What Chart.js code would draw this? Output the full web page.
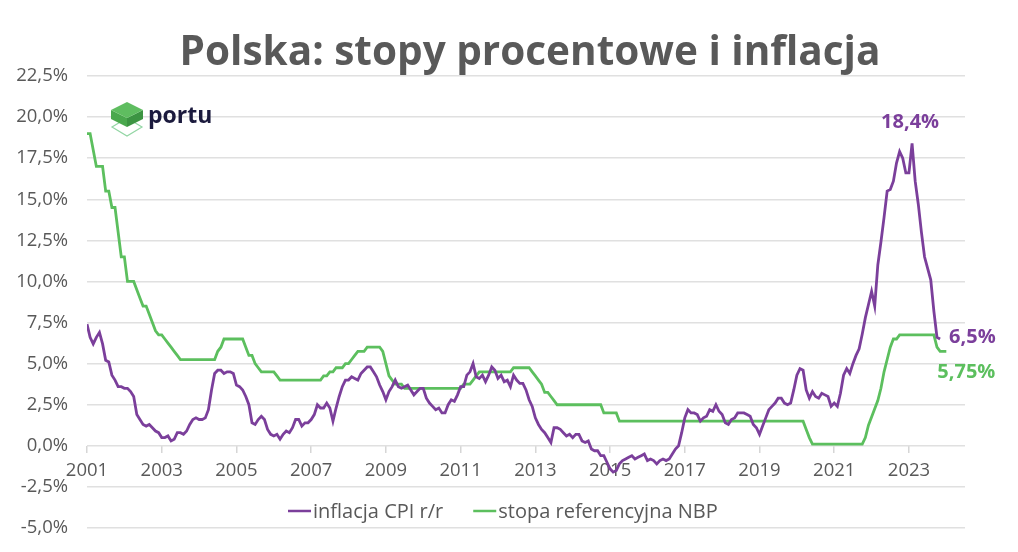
<!DOCTYPE html>
<html>
<head>
<meta charset="utf-8">
<script src="https://cdn.jsdelivr.net/npm/chart.js@4/dist/chart.umd.min.js"></script>
<style>
  body { margin: 0; background: #fff; }
  #wrap { width: 1018px; height: 552px; }
</style>
</head>
<body>
<div id="wrap"><canvas id="chart"></canvas></div>
<script>
// dane miesięczne od stycznia 2001
const startYear = 2001;

// inflacja CPI r/r (%), styczeń 2001 - listopad 2023
const cpi = [
  7.4, 6.6, 6.2, 6.6, 6.9, 6.2, 5.2, 5.1, 4.3, 4.0, 3.6, 3.6,
  3.5, 3.5, 3.3, 3.0, 1.9, 1.6, 1.3, 1.2, 1.3, 1.1, 0.9, 0.8,
  0.5, 0.5, 0.6, 0.3, 0.4, 0.8, 0.8, 0.7, 0.9, 1.3, 1.6, 1.7,
  1.6, 1.6, 1.7, 2.2, 3.4, 4.4, 4.6, 4.6, 4.4, 4.5, 4.5, 4.4,
  3.7, 3.6, 3.4, 3.0, 2.5, 1.4, 1.3, 1.6, 1.8, 1.6, 1.0, 0.7,
  0.6, 0.7, 0.4, 0.7, 0.9, 0.8, 1.1, 1.6, 1.6, 1.2, 1.4, 1.4,
  1.6, 1.9, 2.5, 2.3, 2.3, 2.6, 2.3, 1.5, 2.3, 3.0, 3.6, 4.0,
  4.0, 4.2, 4.1, 4.0, 4.4, 4.6, 4.8, 4.8, 4.5, 4.2, 3.7, 3.3,
  2.8, 3.3, 3.6, 4.0, 3.6, 3.5, 3.6, 3.7, 3.4, 3.1, 3.3, 3.5,
  3.5, 2.9, 2.6, 2.4, 2.2, 2.3, 2.0, 2.0, 2.5, 2.8, 2.7, 3.1,
  3.6, 3.6, 4.3, 4.5, 5.0, 4.2, 4.1, 4.3, 3.9, 4.3, 4.8, 4.6,
  4.1, 4.3, 3.9, 4.0, 3.6, 4.3, 4.0, 3.8, 3.8, 3.4, 2.8, 2.4,
  1.7, 1.3, 1.0, 0.8, 0.5, 0.2, 1.1, 1.1, 1.0, 0.8, 0.6, 0.7,
  0.5, 0.7, 0.7, 0.3, 0.2, 0.3, -0.2, -0.3, -0.3, -0.6, -0.6, -1.0,
  -1.4, -1.6, -1.5, -1.1, -0.9, -0.8, -0.7, -0.6, -0.8, -0.7, -0.6, -0.5,
  -0.9, -0.8, -0.9, -1.1, -0.9, -0.8, -0.9, -0.8, -0.5, -0.2, 0.0, 0.8,
  1.7, 2.2, 2.0, 2.0, 1.9, 1.5, 1.7, 1.8, 2.2, 2.1, 2.5, 2.1,
  1.9, 1.4, 1.3, 1.6, 1.7, 2.0, 2.0, 2.0, 1.9, 1.8, 1.3, 1.1,
  0.7, 1.2, 1.7, 2.2, 2.4, 2.6, 2.9, 2.9, 2.6, 2.5, 2.6, 3.4,
  4.3, 4.7, 4.6, 3.4, 2.9, 3.3, 3.0, 2.9, 3.2, 3.1, 3.0, 2.4,
  2.6, 2.4, 3.2, 4.3, 4.7, 4.4, 5.0, 5.5, 5.9, 6.8, 7.8, 8.6,
  9.4, 8.5, 11.0, 12.4, 13.9, 15.5, 15.6, 16.1, 17.2, 17.9, 17.5, 16.6,
  16.6, 18.4, 16.1, 14.7, 13.0, 11.5, 10.8, 10.1, 8.2, 6.6, 6.5
];

// stopa referencyjna NBP (%), styczeń 2001 - styczeń 2024
const rate = [
  19, 19, 18, 17, 17, 17, 15.5, 15.5, 14.5, 14.5, 13, 11.5,
  11.5, 10, 10, 10, 9.5, 9, 8.5, 8.5, 8, 7.5, 7, 6.75,
  6.75, 6.5, 6.25, 6, 5.75, 5.5, 5.25, 5.25, 5.25, 5.25, 5.25, 5.25,
  5.25, 5.25, 5.25, 5.25, 5.25, 5.25, 5.75, 6, 6.5, 6.5, 6.5, 6.5,
  6.5, 6.5, 6.5, 6, 5.5, 5.5, 5, 4.75, 4.5, 4.5, 4.5, 4.5,
  4.5, 4.25, 4, 4, 4, 4, 4, 4, 4, 4, 4, 4,
  4, 4, 4, 4, 4.25, 4.25, 4.5, 4.5, 4.75, 4.75, 4.75, 5,
  5, 5.25, 5.5, 5.75, 5.75, 5.75, 6, 6, 6, 6, 6, 5.75,
  5, 4.25, 4, 3.75, 3.75, 3.75, 3.5, 3.5, 3.5, 3.5, 3.5, 3.5,
  3.5, 3.5, 3.5, 3.5, 3.5, 3.5, 3.5, 3.5, 3.5, 3.5, 3.5, 3.5,
  3.5, 3.75, 3.75, 3.75, 4, 4.25, 4.5, 4.5, 4.5, 4.5, 4.5, 4.5,
  4.5, 4.5, 4.5, 4.5, 4.5, 4.75, 4.75, 4.75, 4.75, 4.75, 4.75, 4.5,
  4.25, 4, 3.75, 3.25, 3.25, 3, 2.75, 2.5, 2.5, 2.5, 2.5, 2.5,
  2.5, 2.5, 2.5, 2.5, 2.5, 2.5, 2.5, 2.5, 2.5, 2.5, 2, 2,
  2, 2, 2, 1.5, 1.5, 1.5, 1.5, 1.5, 1.5, 1.5, 1.5, 1.5,
  1.5, 1.5, 1.5, 1.5, 1.5, 1.5, 1.5, 1.5, 1.5, 1.5, 1.5, 1.5,
  1.5, 1.5, 1.5, 1.5, 1.5, 1.5, 1.5, 1.5, 1.5, 1.5, 1.5, 1.5,
  1.5, 1.5, 1.5, 1.5, 1.5, 1.5, 1.5, 1.5, 1.5, 1.5, 1.5, 1.5,
  1.5, 1.5, 1.5, 1.5, 1.5, 1.5, 1.5, 1.5, 1.5, 1.5, 1.5, 1.5,
  1.5, 1.5, 1.5, 1, 0.5, 0.1, 0.1, 0.1, 0.1, 0.1, 0.1, 0.1,
  0.1, 0.1, 0.1, 0.1, 0.1, 0.1, 0.1, 0.1, 0.1, 0.1, 0.5, 1.25,
  1.75, 2.25, 2.75, 3.5, 4.5, 5.25, 6, 6.5, 6.5, 6.75, 6.75, 6.75,
  6.75, 6.75, 6.75, 6.75, 6.75, 6.75, 6.75, 6.75, 6.75, 6, 5.75, 5.75,
  5.75
];

const seriesNames = ["inflacja CPI r/r", "stopa referencyjna NBP"];
const yearTicks = [2001, 2003, 2005, 2007, 2009, 2011, 2013, 2015, 2017, 2019, 2021, 2023];

const PURPLE = "#7b3f9b";
const GREEN = "#5cbf5e";
const GREY = "#595959";
const FONT = '"Open Sans", "DejaVu Sans", sans-serif';

function toPoints(arr) {
  return arr.map((v, i) => ({ x: startYear + i / 12, y: v }));
}

function pl(v) {
  return String(v).replace(".", ",") + "%";
}

// tytuł, logo, legenda i podpisy wartości
const extras = {
  id: "extras",
  afterDraw(chart) {
    const ctx = chart.ctx;
    const xs = chart.scales.x;
    const ys = chart.scales.y;
    ctx.save();

    // tytuł
    ctx.fillStyle = GREY;
    ctx.font = "bold 40.5px " + FONT;
    ctx.textAlign = "center";
    ctx.textBaseline = "alphabetic";
    ctx.fillText("Polska: stopy procentowe i inflacja", 530, 65);

    // logo portu
    ctx.strokeStyle = "#93d6a4";
    ctx.lineWidth = 1.2;
    ctx.beginPath();
    ctx.moveTo(127, 118); ctx.lineTo(142, 127); ctx.lineTo(127, 136); ctx.lineTo(112, 127); ctx.closePath();
    ctx.stroke();
    ctx.fillStyle = "#4aa84d";
    ctx.beginPath();
    ctx.moveTo(111, 110); ctx.lineTo(127, 118); ctx.lineTo(127, 127); ctx.lineTo(111, 119); ctx.closePath();
    ctx.fill();
    ctx.fillStyle = "#3c9442";
    ctx.beginPath();
    ctx.moveTo(127, 118); ctx.lineTo(143, 110); ctx.lineTo(143, 119); ctx.lineTo(127, 127); ctx.closePath();
    ctx.fill();
    ctx.fillStyle = "#5fbd60";
    ctx.beginPath();
    ctx.moveTo(127, 102); ctx.lineTo(143, 110); ctx.lineTo(127, 118); ctx.lineTo(111, 110); ctx.closePath();
    ctx.fill();
    ctx.fillStyle = "#1b1a3d";
    ctx.font = "bold 23px " + FONT;
    ctx.textAlign = "left";
    ctx.fillText("portu", 148, 123);

    // legenda
    ctx.font = "20px " + FONT;
    ctx.textBaseline = "middle";
    const colors = [PURPLE, GREEN];
    let lx = 288;
    seriesNames.forEach((name, i) => {
      ctx.strokeStyle = colors[i];
      ctx.lineWidth = 2.5;
      ctx.beginPath();
      ctx.moveTo(lx, 511);
      ctx.lineTo(lx + 23, 511);
      ctx.stroke();
      ctx.fillStyle = GREY;
      ctx.fillText(name, lx + 25, 512);
      lx += 25 + ctx.measureText(name).width + 30;
    });

    // podpisy: szczyt inflacji i ostatnie wartości
    ctx.font = "bold 20px " + FONT;
    let iMax = 0;
    cpi.forEach((v, i) => { if (v > cpi[iMax]) iMax = i; });
    ctx.fillStyle = PURPLE;
    ctx.textAlign = "center";
    ctx.textBaseline = "alphabetic";
    ctx.fillText(pl(cpi[iMax]), xs.getPixelForValue(startYear + iMax / 12) - 2, ys.getPixelForValue(cpi[iMax]) - 15);

    ctx.textAlign = "left";
    ctx.textBaseline = "middle";
    const iC = cpi.length - 1;
    ctx.fillText(pl(cpi[iC]), xs.getPixelForValue(startYear + iC / 12) + 9, ys.getPixelForValue(cpi[iC]) - 2);

    const iR = rate.length - 1;
    ctx.fillStyle = GREEN;
    ctx.fillText(pl(rate[iR]), xs.getPixelForValue(startYear + iR / 12) - 9, ys.getPixelForValue(rate[iR]) + 21);

    ctx.restore();
  }
};

new Chart(document.getElementById("chart"), {
  type: "line",
  data: {
    datasets: [
      {
        label: seriesNames[0],
        data: toPoints(cpi),
        borderColor: PURPLE,
        borderWidth: 2.8,
        pointRadius: 0,
        tension: 0
      },
      {
        label: seriesNames[1],
        data: toPoints(rate),
        borderColor: GREEN,
        borderWidth: 2.8,
        pointRadius: 0,
        tension: 0
      }
    ]
  },
  options: {
    responsive: true,
    maintainAspectRatio: false,
    animation: false,
    layout: { padding: { left: 0, right: 53, top: 76, bottom: 24 } },
    plugins: {
      legend: { display: false },
      title: { display: false },
      tooltip: { enabled: false }
    },
    scales: {
      x: {
        type: "linear",
        position: { y: 0 },
        min: 2001,
        max: 2024.5,
        afterBuildTicks: s => { s.ticks = yearTicks.map(v => ({ value: v })); },
        grid: { drawOnChartArea: false, drawTicks: true, tickLength: 7, color: "#d6d6d6", lineWidth: 1.5 },
        border: { display: false },
        ticks: {
          autoSkip: false,
          maxRotation: 0,
          padding: 7,
          color: GREY,
          font: { family: FONT, size: 18.5 },
          callback: v => String(v)
        }
      },
      y: {
        min: -5,
        max: 22.5,
        afterFit: s => { s.width = 87; },
        // niewidoczne kreski zamiast dużego paddingu, żeby nie zjadać miejsca na dole
        grid: { color: "#e0e0e0", lineWidth: 1.5, drawTicks: true, tickLength: 16, tickColor: "rgba(0,0,0,0)" },
        border: { display: false },
        ticks: {
          stepSize: 2.5,
          padding: 3,
          color: GREY,
          font: { family: FONT, size: 18.5 },
          callback: v => v.toFixed(1).replace(".", ",") + "%"
        }
      }
    }
  },
  plugins: [extras]
});
</script>
</body>
</html>
